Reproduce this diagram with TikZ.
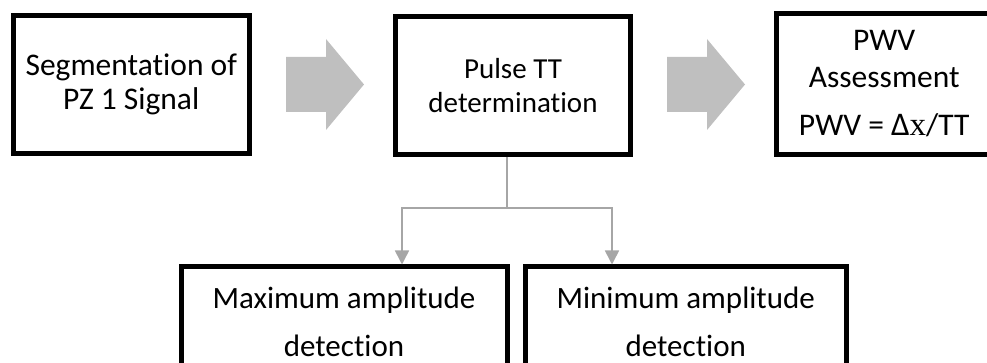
\documentclass[tikz,border=0pt]{standalone}
\usepackage{fontspec}
\setmainfont{Carlito}[Ligatures=NoCommon]
\newfontfamily\serifx{Liberation Serif}
\usetikzlibrary{arrows.meta}
\begin{document}
\begin{tikzpicture}[
    x=0.5pt,y=-0.5pt,
    font=\fontsize{15.75}{17}\selectfont,
    stagebox/.style={draw=black,line width=2.5pt,align=center,inner sep=0pt},
    link/.style={draw=linkgray,line width=0.8pt},
    linktip/.style={-{Triangle[length=7pt,width=7pt]}}
  ]
    \definecolor{blockgray}{HTML}{BFBFBF}
    \definecolor{linkgray}{HTML}{A6A6A6}
    \useasboundingbox (0,0) rectangle (987,363);
    % top row
    \node[stagebox,minimum width=117.75pt,minimum height=69pt] (seg) at (131.25,84.5)
      {Segmentation of\\PZ 1 Signal};
    \node[stagebox,minimum width=117.5pt,minimum height=69pt,
      font=\fontsize{14.5}{17}\selectfont] (ttd) at (513,85.5)
      {Pulse TT\\determination};
    \node[stagebox,minimum width=107.75pt,minimum height=70.5pt] (pwv) at (884.25,84)
      {PWV\\[1.5pt]Assessment\\[7pt]PWV = {\fontsize{16.5}{17}\selectfont Δ\serifx x}/TT};
    \foreach \dx in {0,381}
      \fill[blockgray,shift={(\dx,0)}] (286,57) -- (326,57) -- (326,39) -- (364,84.5)
        -- (326,130) -- (326,112) -- (286,112) -- cycle;
    % detection boxes
    \node[stagebox,minimum width=163pt,minimum height=55pt,
      font=\fontsize{15.5}{17}\selectfont] (maxd) at (344,322)
      {Maximum amplitude\\[7pt]detection};
    \node[stagebox,minimum width=160.25pt,minimum height=55pt,
      font=\fontsize{15.5}{17}\selectfont] (mind) at (685.75,322)
      {Minimum amplitude\\[7pt]detection};
    \coordinate (fork) at (507,208);
    \coordinate (forkl) at (402,208);
    \coordinate (forkr) at (612,208);
    \draw[link] (ttd.south -| fork) -- (fork);
    \draw[link,linktip] (fork) -- (forkl) -- (forkl |- maxd.north);
    \draw[link,linktip] (fork) -- (forkr) -- (forkr |- mind.north);
  \end{tikzpicture}
\end{document}
